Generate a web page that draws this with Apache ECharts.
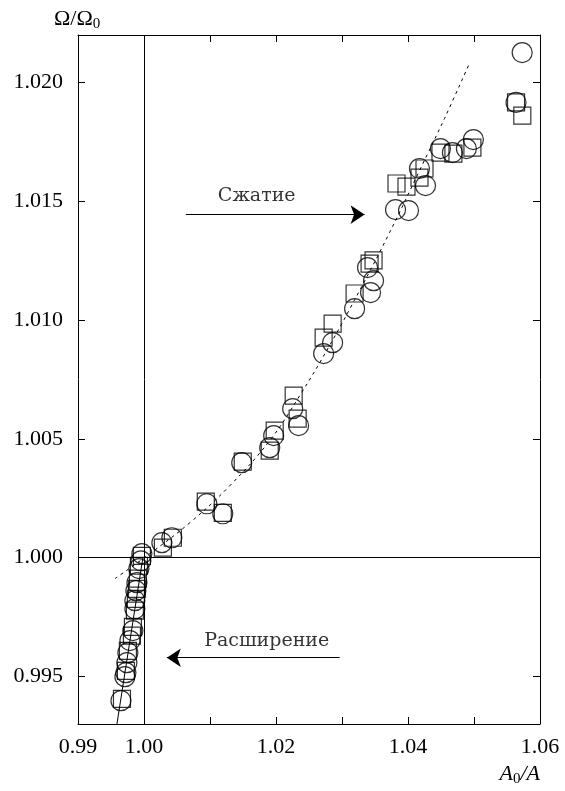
<!DOCTYPE html>
<html>
<head>
<meta charset="utf-8">
<script src="https://cdn.jsdelivr.net/npm/echarts@6/dist/echarts.min.js"></script>
<style>
  html, body { margin: 0; padding: 0; background: #fff; }
  #main { width: 565px; height: 791px; }
</style>
</head>
<body>
<div id="main"></div>
<script>
// кружки: [A0/A, Omega/Omega0]
var circles = [
  [1.0573, 1.02126], [1.05637, 1.01916], [1.04991, 1.01760], [1.04885, 1.01722],
  [1.04673, 1.01705], [1.04492, 1.01722], [1.04174, 1.01638], [1.04265, 1.01566],
  [1.03811, 1.01465], [1.04008, 1.01461], [1.03387, 1.01221], [1.03478, 1.01166],
  [1.03433, 1.01116], [1.03191, 1.01048], [1.02858, 1.00905], [1.02722, 1.00859],
  [1.02253, 1.00627], [1.02343, 1.00556], [1.01965, 1.00514], [1.01905, 1.00463],
  [1.01481, 1.00400], [1.00952, 1.00227], [1.01194, 1.00185], [1.00422, 1.00084],
  [1.00271, 1.00063],
  [0.99968, 1.00017], [0.99953, 0.99987], [0.99923, 0.99954], [0.99893, 0.99895],
  [0.99877, 0.99861], [0.99862, 0.99819], [0.99862, 0.99785], [0.99832, 0.99693],
  [0.99787, 0.99651], [0.99756, 0.99600], [0.99741, 0.99558], [0.99726, 0.99516],
  [0.99711, 0.99499], [0.99651, 0.99398]
];
// квадраты
var squares = [
  [1.05637, 1.01916], [1.05732, 1.01861], [1.04976, 1.01726], [1.04688, 1.01701],
  [1.04492, 1.01705], [1.04250, 1.01638], [1.04174, 1.01600], [1.03826, 1.01575],
  [1.03977, 1.01562], [1.03478, 1.01251], [1.03418, 1.01238], [1.03191, 1.01112],
  [1.02858, 1.00985], [1.02722, 1.00926], [1.02268, 1.00682], [1.02328, 1.00585],
  [1.01980, 1.00535], [1.01905, 1.00451], [1.01496, 1.00404], [1.00936, 1.00236],
  [1.01194, 1.00189], [1.00437, 1.00084], [1.00286, 1.00042],
  [0.99968, 1.00008], [0.99923, 0.99966], [0.99908, 0.99912], [0.99893, 0.99869],
  [0.99877, 0.99827], [0.99862, 0.99777], [0.99832, 0.99709], [0.99817, 0.99672],
  [0.99756, 0.99608], [0.99726, 0.99524], [0.99666, 0.99406]
];
// пунктирная кривая (сжатие)
var compressFit = [
  [0.99560, 0.99912], [1.00089, 1.00017], [1.00694, 1.00147], [1.01300, 1.00303],
  [1.01905, 1.00493], [1.02359, 1.00682], [1.02812, 1.00893], [1.03266, 1.01124],
  [1.03720, 1.01368], [1.04174, 1.01629], [1.04552, 1.01848], [1.04930, 1.02080]
];
// сплошная линия (расширение)
var expandFit = [[0.99590, 0.99300], [0.99983, 1.00000]];
// стрелки и подписи
var arrowCompress = [[1.00634, 1.01444], [1.03342, 1.01444]];
var arrowExpand = [[1.02964, 0.99579], [1.00346, 0.99579]];
var notes = [
  { value: [1.01708, 1.01520], text: 'Сжатие' },
  { value: [1.01859, 0.99651], text: 'Расширение' }
];
// оси
var xLabels = [0.99, 1.00, 1.02, 1.04, 1.06];
var xTicks = [0.99, 1.00, 1.01, 1.02, 1.03, 1.04, 1.05, 1.06];
var yTicks = [0.995, 1.000, 1.005, 1.010, 1.015, 1.020];

var font = '"Liberation Serif", "DejaVu Serif", serif';
var myChart = echarts.init(document.getElementById('main'));

function xAx(pos, labels) {
  return {
    type: 'value', position: pos, min: 0.99, max: 1.06,
    axisLine: { onZero: false, lineStyle: { color: '#000', width: 1 } },
    axisTick: { inside: true, length: 7, customValues: xTicks, lineStyle: { color: '#000' } },
    axisLabel: {
      show: labels, customValues: xLabels, margin: 12,
      color: '#000', fontFamily: font, fontSize: 22,
      formatter: function (v) { return v.toFixed(2); }
    },
    splitLine: { show: false }
  };
}
function yAx(pos, labels) {
  return {
    type: 'value', position: pos, min: 0.993, max: 1.022,
    axisLine: { onZero: false, lineStyle: { color: '#000', width: 1 } },
    axisTick: { inside: true, length: 7, customValues: yTicks, lineStyle: { color: '#000' } },
    axisLabel: {
      show: labels, customValues: yTicks, margin: 15,
      color: '#000', fontFamily: font, fontSize: 22,
      formatter: function (v) { return v.toFixed(3); }
    },
    splitLine: { show: false }
  };
}

var mark = { color: 'transparent', borderColor: '#000', borderWidth: 1.2 };

var option = {
  animation: false,
  backgroundColor: '#fff',
  grid: { left: 78, right: 25, top: 35, bottom: 67 },
  xAxis: [xAx('bottom', true), xAx('top', false)],
  yAxis: [yAx('left', true), yAx('right', false)],
  graphic: [
    {
      type: 'text', left: 54, top: 8,
      style: {
        text: '{a|Ω/Ω}{s|0}',
        rich: {
          a: { fontFamily: font, fontSize: 22, fill: '#000' },
          s: { fontFamily: font, fontSize: 15, fill: '#000', padding: [10, 0, 0, 0] }
        }
      }
    },
    {
      type: 'text', right: 25, top: 763,
      style: {
        text: '{a|A}{s|0}{a|/A}',
        rich: {
          a: { fontFamily: font, fontSize: 22, fontStyle: 'italic', fill: '#000' },
          s: { fontFamily: font, fontSize: 15, fill: '#000', padding: [10, 0, 0, 0] }
        }
      }
    }
  ],
  series: [
    {
      name: 'круги', type: 'scatter', symbol: 'circle', symbolSize: 20,
      data: circles, itemStyle: mark, silent: true,
      markLine: {
        silent: true, symbol: 'none', label: { show: false },
        lineStyle: { color: '#000', width: 1, type: 'solid' },
        data: [{ xAxis: 1.0 }, { yAxis: 1.0 }]
      }
    },
    {
      name: 'квадраты', type: 'scatter', symbol: 'rect', symbolSize: 17,
      data: squares, itemStyle: mark, silent: true
    },
    {
      type: 'line', data: compressFit, symbol: 'none', silent: true, smooth: 0.4,
      lineStyle: { color: '#000', width: 1, type: [3, 4] }
    },
    {
      type: 'line', data: expandFit, symbol: 'none', silent: true,
      lineStyle: { color: '#000', width: 1 }
    },
    {
      type: 'lines', coordinateSystem: 'cartesian2d', silent: true,
      symbol: ['none', 'arrow'], symbolSize: [0, 14],
      lineStyle: { color: '#000', width: 1.2, opacity: 1 },
      data: [{ coords: arrowCompress }, { coords: arrowExpand }]
    },
    {
      type: 'scatter', symbolSize: 0, silent: true,
      data: notes,
      label: {
        show: true, position: 'inside', color: '#000',
        fontFamily: '"DejaVu Serif", serif', fontSize: 19,
        formatter: function (p) { return p.data.text; }
      }
    }
  ]
};
myChart.setOption(option);
</script>
</body>
</html>
